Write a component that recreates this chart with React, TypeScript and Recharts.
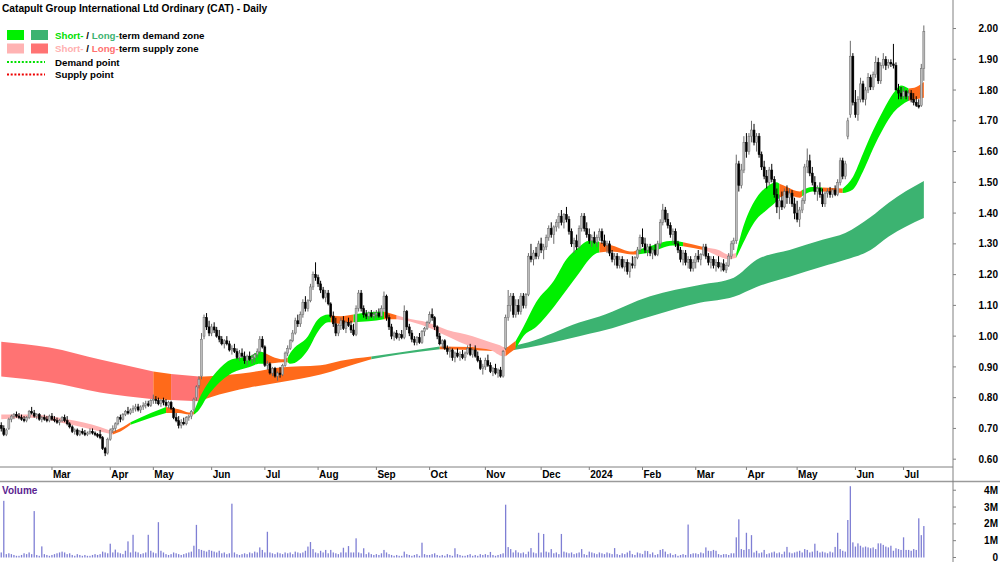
import React from 'react';
import { ComposedChart, Area, Bar, XAxis, YAxis } from 'recharts';

type OHLC = [number, number, number, number];

// Daily candles [open, high, low, close], one array per month
const feb23: OHLC[] = [[0.71,0.72,0.69,0.70],[0.70,0.71,0.675,0.68],[0.68,0.70,0.675,0.695],[0.70,0.735,0.695,0.73],[0.73,0.745,0.72,0.74],[0.74,0.75,0.73,0.745],[0.745,0.755,0.735,0.74],[0.74,0.75,0.73,0.735],[0.735,0.745,0.725,0.73],[0.73,0.74,0.72,0.725],[0.725,0.74,0.72,0.735],[0.735,0.76,0.73,0.755],[0.755,0.77,0.745,0.75],[0.75,0.76,0.735,0.74],[0.74,0.75,0.73,0.745],[0.745,0.75,0.725,0.73],[0.73,0.74,0.72,0.735],[0.735,0.745,0.725,0.73],[0.73,0.74,0.72,0.725],[0.725,0.745,0.72,0.74]];
const mar23: OHLC[] = [[0.74,0.75,0.725,0.73],[0.73,0.74,0.72,0.725],[0.725,0.735,0.715,0.72],[0.72,0.73,0.71,0.725],[0.725,0.74,0.72,0.735],[0.735,0.745,0.72,0.725],[0.725,0.74,0.71,0.715],[0.715,0.72,0.70,0.705],[0.705,0.71,0.685,0.69],[0.69,0.70,0.68,0.695],[0.695,0.70,0.675,0.68],[0.68,0.695,0.675,0.69],[0.69,0.70,0.68,0.685],[0.685,0.695,0.675,0.68],[0.68,0.69,0.675,0.685],[0.685,0.70,0.68,0.69],[0.69,0.70,0.68,0.685],[0.685,0.69,0.675,0.68],[0.68,0.685,0.67,0.675],[0.68,0.695,0.665,0.67],[0.67,0.675,0.63,0.635],[0.635,0.64,0.61,0.62],[0.62,0.67,0.615,0.665]];
const apr23: OHLC[] = [[0.665,0.70,0.66,0.695],[0.695,0.71,0.685,0.70],[0.70,0.72,0.69,0.715],[0.715,0.74,0.71,0.735],[0.735,0.745,0.72,0.73],[0.73,0.75,0.725,0.745],[0.745,0.76,0.74,0.755],[0.755,0.77,0.745,0.75],[0.75,0.765,0.745,0.76],[0.76,0.775,0.75,0.765],[0.765,0.78,0.755,0.77],[0.77,0.78,0.755,0.76],[0.76,0.775,0.75,0.77],[0.77,0.785,0.76,0.775],[0.775,0.79,0.765,0.78],[0.78,0.79,0.77,0.775],[0.775,0.795,0.77,0.79]];
const may23: OHLC[] = [[0.79,0.81,0.78,0.795],[0.795,0.805,0.78,0.79],[0.79,0.80,0.775,0.78],[0.78,0.795,0.77,0.79],[0.79,0.80,0.775,0.785],[0.785,0.795,0.77,0.775],[0.775,0.79,0.765,0.785],[0.785,0.79,0.76,0.765],[0.765,0.77,0.73,0.735],[0.735,0.75,0.72,0.725],[0.725,0.74,0.70,0.71],[0.71,0.73,0.70,0.72],[0.72,0.735,0.71,0.715],[0.715,0.74,0.71,0.735],[0.735,0.745,0.725,0.74],[0.74,0.76,0.73,0.755],[0.76,0.80,0.755,0.795],[0.80,0.84,0.79,0.835],[0.84,0.87,0.83,0.86],[0.87,1.01,0.86,0.99],[1.00,1.07,0.99,1.06],[1.06,1.075,1.02,1.03],[1.03,1.05,1.00,1.01]];
const jun23: OHLC[] = [[1.01,1.04,1.00,1.03],[1.03,1.045,1.01,1.02],[1.02,1.03,0.995,1.00],[1.00,1.02,0.98,0.99],[0.99,1.00,0.97,0.975],[0.975,0.99,0.96,0.985],[0.985,1.00,0.97,0.975],[0.975,0.985,0.95,0.955],[0.955,0.97,0.94,0.96],[0.96,0.975,0.945,0.95],[0.95,0.96,0.925,0.93],[0.93,0.955,0.92,0.945],[0.945,0.96,0.93,0.935],[0.935,0.95,0.91,0.92],[0.92,0.94,0.905,0.935],[0.935,0.95,0.92,0.925],[0.925,0.94,0.91,0.93],[0.93,0.945,0.915,0.94],[0.94,0.96,0.93,0.95],[0.95,1.00,0.945,0.99],[0.99,1.00,0.96,0.965]];
const jul23: OHLC[] = [[0.965,0.97,0.90,0.905],[0.905,0.92,0.89,0.91],[0.91,0.915,0.875,0.88],[0.88,0.90,0.87,0.895],[0.895,0.90,0.865,0.87],[0.87,0.885,0.855,0.88],[0.88,0.90,0.865,0.875],[0.875,0.91,0.87,0.905],[0.905,0.95,0.90,0.945],[0.945,0.97,0.935,0.96],[0.96,0.99,0.955,0.985],[0.985,1.02,0.98,1.01],[1.01,1.06,1.005,1.05],[1.05,1.07,1.03,1.04],[1.04,1.08,1.03,1.07],[1.07,1.12,1.06,1.11],[1.11,1.13,1.08,1.09],[1.09,1.12,1.08,1.115],[1.115,1.17,1.11,1.16],[1.16,1.21,1.15,1.20],[1.20,1.24,1.18,1.19]];
const aug23: OHLC[] = [[1.19,1.20,1.16,1.17],[1.17,1.18,1.14,1.15],[1.15,1.16,1.12,1.125],[1.125,1.15,1.11,1.14],[1.14,1.15,1.10,1.105],[1.105,1.11,1.06,1.065],[1.065,1.08,1.03,1.04],[1.04,1.06,1.00,1.01],[1.01,1.04,1.00,1.035],[1.035,1.06,1.02,1.05],[1.05,1.065,1.02,1.025],[1.025,1.05,1.01,1.045],[1.045,1.06,1.03,1.035],[1.035,1.05,1.01,1.02],[1.02,1.04,1.00,1.005],[1.005,1.10,1.00,1.09],[1.09,1.15,1.08,1.14],[1.14,1.15,1.08,1.09],[1.09,1.10,1.06,1.07],[1.07,1.085,1.055,1.065],[1.065,1.08,1.055,1.075],[1.075,1.085,1.06,1.065],[1.065,1.08,1.055,1.07]];
const sep23: OHLC[] = [[1.07,1.085,1.06,1.075],[1.075,1.09,1.06,1.065],[1.065,1.10,1.06,1.09],[1.09,1.145,1.08,1.13],[1.13,1.135,1.05,1.06],[1.06,1.07,1.02,1.03],[1.03,1.04,0.99,1.00],[1.00,1.015,0.985,1.01],[1.01,1.02,0.99,0.995],[0.995,1.01,0.985,1.005],[1.005,1.02,0.99,0.995],[0.995,1.10,0.99,1.08],[1.08,1.085,1.02,1.03],[1.03,1.04,1.00,1.01],[1.01,1.02,0.98,0.99],[0.99,1.00,0.97,0.98],[0.98,1.00,0.97,0.995],[0.995,1.01,0.975,0.98],[0.98,1.02,0.975,1.015],[1.015,1.03,1.00,1.025],[1.025,1.05,1.02,1.045]];
const oct23: OHLC[] = [[1.045,1.08,1.04,1.07],[1.07,1.09,1.05,1.06],[1.06,1.065,1.02,1.03],[1.03,1.035,0.99,1.00],[1.00,1.01,0.97,0.975],[0.975,0.99,0.96,0.985],[0.985,0.99,0.955,0.96],[0.96,0.97,0.94,0.95],[0.95,0.965,0.93,0.955],[0.955,0.96,0.92,0.93],[0.93,0.95,0.915,0.945],[0.945,0.96,0.93,0.935],[0.935,0.95,0.92,0.94],[0.94,0.955,0.925,0.93],[0.93,0.95,0.92,0.945],[0.945,0.97,0.94,0.96],[0.96,0.975,0.935,0.94],[0.94,0.96,0.93,0.955],[0.955,0.97,0.93,0.935],[0.935,0.95,0.915,0.92],[0.92,0.93,0.89,0.895],[0.895,0.91,0.875,0.90]];
const nov23: OHLC[] = [[0.90,0.93,0.89,0.92],[0.92,0.94,0.90,0.905],[0.905,0.915,0.88,0.885],[0.885,0.90,0.87,0.895],[0.895,0.91,0.875,0.88],[0.88,0.895,0.865,0.89],[0.89,0.90,0.865,0.87],[0.87,0.955,0.865,0.95],[0.96,1.07,0.955,1.06],[1.06,1.15,1.05,1.10],[1.10,1.14,1.08,1.13],[1.13,1.14,1.06,1.07],[1.07,1.12,1.06,1.10],[1.10,1.12,1.07,1.08],[1.08,1.14,1.07,1.13],[1.13,1.14,1.09,1.10],[1.10,1.14,1.09,1.135],[1.135,1.27,1.13,1.26],[1.26,1.30,1.24,1.25],[1.25,1.28,1.23,1.27],[1.27,1.29,1.25,1.26],[1.26,1.31,1.25,1.30]];
const dec23: OHLC[] = [[1.30,1.32,1.27,1.28],[1.28,1.30,1.25,1.29],[1.29,1.33,1.28,1.32],[1.32,1.36,1.31,1.35],[1.35,1.37,1.32,1.33],[1.33,1.36,1.30,1.355],[1.355,1.38,1.34,1.37],[1.37,1.40,1.35,1.39],[1.39,1.41,1.36,1.37],[1.37,1.40,1.35,1.395],[1.395,1.42,1.37,1.38],[1.38,1.39,1.33,1.34],[1.34,1.35,1.29,1.30],[1.30,1.32,1.27,1.31],[1.31,1.33,1.28,1.29],[1.29,1.36,1.285,1.35],[1.35,1.40,1.34,1.39],[1.39,1.40,1.34,1.35],[1.35,1.37,1.32,1.33]];
const jan24: OHLC[] = [[1.33,1.35,1.30,1.31],[1.31,1.33,1.29,1.32],[1.32,1.34,1.30,1.305],[1.305,1.33,1.29,1.32],[1.32,1.35,1.31,1.34],[1.34,1.35,1.30,1.31],[1.31,1.33,1.29,1.295],[1.295,1.31,1.27,1.30],[1.30,1.31,1.26,1.27],[1.27,1.28,1.24,1.25],[1.25,1.27,1.23,1.26],[1.26,1.27,1.22,1.23],[1.23,1.26,1.22,1.25],[1.25,1.26,1.22,1.225],[1.225,1.25,1.21,1.24],[1.24,1.25,1.20,1.21],[1.21,1.24,1.19,1.235],[1.235,1.26,1.22,1.23],[1.23,1.26,1.22,1.255],[1.255,1.29,1.25,1.28],[1.28,1.33,1.27,1.32]];
const feb24: OHLC[] = [[1.32,1.35,1.29,1.30],[1.30,1.32,1.27,1.28],[1.28,1.30,1.26,1.29],[1.29,1.30,1.26,1.27],[1.27,1.29,1.25,1.28],[1.28,1.30,1.26,1.265],[1.265,1.31,1.26,1.30],[1.30,1.38,1.29,1.37],[1.37,1.43,1.36,1.41],[1.41,1.42,1.37,1.38],[1.38,1.40,1.35,1.36],[1.36,1.37,1.32,1.33],[1.33,1.35,1.30,1.34],[1.34,1.35,1.29,1.30],[1.30,1.31,1.27,1.28],[1.28,1.29,1.24,1.25],[1.25,1.28,1.23,1.27],[1.27,1.28,1.23,1.24],[1.24,1.26,1.22,1.25],[1.25,1.26,1.21,1.22],[1.22,1.25,1.21,1.24]];
const mar24: OHLC[] = [[1.24,1.27,1.22,1.26],[1.26,1.28,1.24,1.25],[1.25,1.27,1.23,1.265],[1.265,1.30,1.26,1.29],[1.29,1.30,1.25,1.26],[1.26,1.27,1.23,1.24],[1.24,1.26,1.22,1.25],[1.25,1.26,1.22,1.23],[1.23,1.25,1.21,1.24],[1.24,1.26,1.22,1.225],[1.225,1.24,1.21,1.235],[1.235,1.25,1.21,1.215],[1.215,1.24,1.205,1.23],[1.23,1.27,1.225,1.26],[1.26,1.31,1.25,1.30],[1.30,1.32,1.28,1.31],[1.31,1.59,1.30,1.56],[1.56,1.57,1.47,1.49],[1.49,1.56,1.48,1.54],[1.54,1.65,1.53,1.63]];
const apr24: OHLC[] = [[1.63,1.66,1.58,1.60],[1.60,1.66,1.59,1.65],[1.65,1.70,1.63,1.67],[1.67,1.69,1.62,1.63],[1.63,1.66,1.60,1.65],[1.65,1.66,1.58,1.59],[1.59,1.60,1.54,1.55],[1.55,1.57,1.51,1.52],[1.52,1.54,1.48,1.50],[1.50,1.55,1.49,1.54],[1.54,1.56,1.50,1.51],[1.51,1.52,1.45,1.46],[1.46,1.48,1.40,1.42],[1.42,1.46,1.38,1.44],[1.44,1.47,1.41,1.42],[1.42,1.48,1.415,1.47],[1.47,1.49,1.43,1.45],[1.45,1.48,1.43,1.465],[1.465,1.475,1.42,1.43],[1.43,1.45,1.38,1.40]];
const may24: OHLC[] = [[1.40,1.44,1.37,1.38],[1.38,1.42,1.355,1.41],[1.41,1.45,1.40,1.44],[1.44,1.56,1.43,1.55],[1.55,1.61,1.53,1.57],[1.57,1.59,1.52,1.53],[1.53,1.55,1.49,1.50],[1.50,1.52,1.46,1.47],[1.47,1.49,1.44,1.48],[1.48,1.50,1.45,1.46],[1.46,1.48,1.42,1.43],[1.43,1.47,1.42,1.465],[1.465,1.48,1.45,1.47],[1.47,1.485,1.45,1.46],[1.46,1.48,1.45,1.475],[1.475,1.49,1.455,1.46],[1.46,1.51,1.455,1.50],[1.50,1.58,1.49,1.57],[1.57,1.58,1.51,1.52],[1.52,1.57,1.51,1.56],[1.65,1.71,1.64,1.70],[1.72,1.96,1.71,1.91],[1.91,1.92,1.75,1.76]];
const jun24: OHLC[] = [[1.76,1.80,1.71,1.72],[1.72,1.78,1.70,1.77],[1.77,1.84,1.76,1.82],[1.82,1.83,1.76,1.77],[1.77,1.81,1.75,1.80],[1.80,1.855,1.79,1.84],[1.84,1.85,1.80,1.81],[1.81,1.86,1.80,1.85],[1.85,1.91,1.84,1.89],[1.89,1.905,1.82,1.83],[1.83,1.89,1.82,1.88],[1.88,1.92,1.87,1.90],[1.90,1.91,1.865,1.88],[1.88,1.90,1.87,1.89],[1.89,1.90,1.875,1.885],[1.885,1.95,1.87,1.88],[1.88,1.89,1.80,1.80],[1.80,1.82,1.77,1.79],[1.79,1.81,1.77,1.78]];
const jul24: OHLC[] = [[1.78,1.81,1.77,1.795],[1.795,1.80,1.77,1.78],[1.78,1.80,1.765,1.79],[1.79,1.80,1.76,1.77],[1.77,1.79,1.75,1.76],[1.76,1.78,1.745,1.75],[1.75,1.77,1.74,1.745],[1.75,1.885,1.745,1.87],[1.87,2.01,1.83,1.99]];

// Daily volume in millions of shares, one array per month
const volFeb23 = [0.3,3.37,0.2,0.25,0.2,0.15,0.1,0.1,0.15,0.25,0.2,0.3,0.2,2.76,0.15,0.1,0.66,0.2,0.15,0.1];
const volMar23 = [0.15,0.2,0.25,0.3,0.35,0.3,0.2,0.25,0.15,0.1,0.2,0.15,0.1,0.15,0.1,0.1,0.15,0.2,0.15,0.2,0.35,0.3,0.25];
const volApr23 = [0.82,0.3,0.47,0.3,0.25,0.2,0.4,0.96,0.3,1.35,0.35,0.3,0.2,0.25,0.3,1.35,0.4];
const volMay23 = [0.3,0.25,2.1,0.4,0.3,0.2,0.15,0.2,0.3,0.25,0.2,0.15,0.2,0.25,0.3,0.35,0.7,1.94,0.5,0.45,0.4,0.35,0.45];
const volJun23 = [0.4,0.35,0.3,0.4,0.25,0.3,0.2,0.25,3.2,0.3,0.2,0.15,0.2,0.25,0.2,0.3,0.25,0.35,0.3,0.6,0.45];
const volJul23 = [0.3,1.53,0.3,0.25,0.2,0.3,0.25,0.2,0.3,0.25,0.3,0.2,0.35,0.3,0.25,0.3,0.4,0.65,0.92,0.5,0.3];
const volAug23 = [0.25,0.4,0.3,0.45,0.25,0.45,0.3,0.25,0.2,0.3,0.58,0.3,0.68,0.3,0.3,1.14,0.3,0.25,0.55,0.2,0.3,0.2,0.15];
const volSep23 = [0.2,0.15,0.25,0.45,0.3,0.2,0.15,0.1,0.15,0.1,0.1,0.35,0.2,0.15,0.1,0.15,0.2,0.1,0.88,0.2,0.15];
const volOct23 = [0.15,0.2,0.25,0.15,0.1,0.15,0.1,0.2,0.15,0.1,0.55,0.2,0.15,0.1,0.1,0.15,0.2,0.1,0.15,0.1,0.2,0.15];
const volNov23 = [0.2,0.15,0.33,0.15,0.1,0.15,0.2,0.25,3.14,0.62,0.5,0.3,0.43,0.3,0.25,0.3,0.2,0.35,0.56,0.3,0.25,1.47];
const volDec23 = [0.3,1.4,0.35,0.3,0.5,0.25,0.3,0.2,1.4,0.35,0.3,0.25,0.3,0.2,0.25,0.3,0.5,0.2,0.15];
const volJan24 = [0.35,0.3,0.25,0.2,0.3,0.25,0.2,0.3,0.25,0.2,0.56,0.2,0.15,0.25,0.2,0.3,0.4,0.2,0.15,0.3,0.25];
const volFeb24 = [0.2,0.4,0.38,0.2,0.3,0.15,0.2,0.45,0.5,0.35,0.2,0.25,0.15,0.2,0.1,0.15,0.2,0.15,1.96,0.2,0.25];
const volMar24 = [0.25,0.2,0.3,0.25,0.6,0.4,0.38,0.45,0.4,0.2,0.15,0.2,0.2,0.15,0.25,0.25,1.2,2.27,0.5,0.45];
const volApr24 = [1.47,0.5,1.33,0.3,0.4,0.25,0.3,0.45,0.2,0.25,0.3,0.35,0.25,0.3,0.2,0.35,0.63,0.3,0.25,0.3];
const volMay24 = [0.35,0.4,0.3,0.5,0.45,0.3,0.35,0.82,0.4,0.3,0.35,0.3,0.25,0.35,0.3,0.63,1.47,0.5,0.4,0.35,2.23,4.24,0.9];
const volJun24 = [0.65,0.84,0.7,0.6,0.65,0.6,0.55,0.6,0.5,0.84,0.84,0.75,0.65,0.6,0.7,0.4,0.55,0.5,0.45];
const volJul24 = [1.2,0.45,0.45,0.4,0.5,0.45,2.33,1.33,1.87];

// X axis: trading-day index of the first session of each month
const monthTickIdx = [20,43,60,83,104,125,148,169,191,213,232,253,274,294,314,337,356];
const monthTickLabels = ['Mar','Apr','May','Jun','Jul','Aug','Sep','Oct','Nov','Dec','2024','Feb','Mar','Apr','May','Jun','Jul'];
const priceTicks = [0.6,0.7,0.8,0.9,1.0,1.1,1.2,1.3,1.4,1.5,1.6,1.7,1.8,1.9,2.0];
const volTicks = [0,1,2,3,4];
const volTickLabels = ['0','1M','2M','3M','4M'];

// Zones: [dayIndex, lower, upper]
type Kind = 'demand' | 'supply' | 'shift';
type Zone = { kind: Kind; pts: [number, number, number][] };

const longTermZones: Zone[] = [
  { kind: 'supply', pts: [[0,0.869,0.982],[19,0.85,0.963],[39,0.817,0.924],[60,0.795,0.885]] },
  { kind: 'shift', pts: [[60,0.795,0.885],[67,0.792,0.877]] },
  { kind: 'supply', pts: [[67,0.792,0.877],[78,0.788,0.869]] },
  { kind: 'shift', pts: [[78,0.788,0.869],[82,0.80,0.87],[98,0.833,0.882],[110,0.85,0.898],[126,0.875,0.905],[134,0.895,0.92],[146,0.925,0.934]] },
  { kind: 'demand', pts: [[146,0.925,0.934],[157,0.94,0.947],[173,0.957,0.966]] },
  { kind: 'shift', pts: [[173,0.957,0.966],[185,0.955,0.965],[199,0.95,0.963]] },
  { kind: 'demand', pts: [[199,0.95,0.963],[208,0.963,0.98],[228,1.00,1.044],[236,1.015,1.064],[256,1.064,1.13],[276,1.109,1.167],[289,1.128,1.19],[298,1.16,1.248],[311,1.193,1.28],[324,1.226,1.313],[333,1.248,1.335],[343,1.28,1.387],[350,1.323,1.433],[364,1.384,1.504]] },
];

const shortTermZones: Zone[] = [
  { kind: 'supply', pts: [[0,0.73,0.745],[12,0.735,0.745],[26,0.715,0.73],[39,0.69,0.705],[44,0.68,0.69]] },
  { kind: 'shift', pts: [[44,0.68,0.69],[48,0.695,0.705],[51,0.712,0.72]] },
  { kind: 'demand', pts: [[51,0.712,0.72],[59,0.735,0.75],[65,0.75,0.77]] },
  { kind: 'shift', pts: [[65,0.75,0.77],[70,0.75,0.762],[74,0.745,0.752],[76,0.745,0.755]] },
  { kind: 'demand', pts: [[76,0.745,0.755],[78,0.76,0.795],[81,0.80,0.84],[85,0.84,0.885],[91,0.88,0.925],[98,0.90,0.935],[102,0.91,0.95],[104,0.91,0.945]] },
  { kind: 'shift', pts: [[104,0.91,0.945],[108,0.913,0.93],[111,0.915,0.925],[113,0.915,0.93]] },
  { kind: 'demand', pts: [[113,0.915,0.93],[114,0.91,0.945],[121,0.955,1.00],[125,1.015,1.055],[129,1.045,1.07],[130,1.045,1.068]] },
  { kind: 'shift', pts: [[130,1.045,1.068],[134,1.04,1.065],[139,1.045,1.07]] },
  { kind: 'demand', pts: [[139,1.045,1.07],[145,1.048,1.078],[151,1.055,1.08]] },
  { kind: 'shift', pts: [[151,1.055,1.08],[156,1.055,1.068]] },
  { kind: 'supply', pts: [[156,1.055,1.068],[160,1.05,1.058],[168,1.03,1.045],[176,1.00,1.02],[186,0.965,1.00],[193,0.955,0.98],[198,0.935,0.965],[199,0.935,0.96]] },
  { kind: 'shift', pts: [[199,0.935,0.96],[203,0.96,0.985]] },
  { kind: 'demand', pts: [[203,0.96,0.985],[206,1.00,1.03],[211,1.03,1.11],[218,1.095,1.18],[223,1.15,1.25],[228,1.205,1.29],[232,1.25,1.31],[235,1.27,1.31],[236,1.272,1.305]] },
  { kind: 'shift', pts: [[236,1.272,1.305],[241,1.275,1.295],[249,1.265,1.275],[251,1.265,1.28]] },
  { kind: 'demand', pts: [[251,1.265,1.28],[255,1.27,1.29],[265,1.295,1.31],[269,1.292,1.305]] },
  { kind: 'shift', pts: [[269,1.292,1.305],[277,1.28,1.29],[278,1.278,1.288]] },
  { kind: 'supply', pts: [[278,1.278,1.288],[283,1.26,1.28],[287,1.25,1.265],[290,1.255,1.27]] },
  { kind: 'demand', pts: [[290,1.255,1.27],[292,1.29,1.335],[298,1.38,1.45],[302,1.41,1.485],[306,1.44,1.50],[307,1.45,1.495]] },
  { kind: 'shift', pts: [[307,1.45,1.495],[310,1.46,1.485],[315,1.45,1.47],[316,1.455,1.475]] },
  { kind: 'demand', pts: [[316,1.455,1.475],[320,1.47,1.485],[324,1.47,1.483]] },
  { kind: 'shift', pts: [[324,1.47,1.483],[332,1.465,1.48]] },
  { kind: 'demand', pts: [[332,1.465,1.48],[336,1.477,1.517],[340,1.535,1.594],[344,1.61,1.669],[348,1.675,1.734],[352,1.727,1.79],[355,1.75,1.815],[358,1.765,1.805]] },
  { kind: 'shift', pts: [[358,1.765,1.805],[361,1.77,1.81],[364,1.775,1.826]] },
];

// ---------- styling ----------
const FONT = '"Liberation Sans", Arial, Helvetica, sans-serif';
const SLOTS = 376;
const LT_COLORS: Record<Kind, string> = { demand: '#3cb371', supply: '#ff7373', shift: '#ff6a1a' };
const ST_COLORS: Record<Kind, string> = { demand: '#00f000', supply: '#ffb3b3', shift: '#ff6a1a' };
const AXIS_GRAY = '#808080';

const candles: OHLC[] = [...feb23, ...mar23, ...apr23, ...may23, ...jun23, ...jul23, ...aug23, ...sep23, ...oct23, ...nov23, ...dec23, ...jan24, ...feb24, ...mar24, ...apr24, ...may24, ...jun24, ...jul24];
const volumes: number[] = [...volFeb23, ...volMar23, ...volApr23, ...volMay23, ...volJun23, ...volJul23, ...volAug23, ...volSep23, ...volOct23, ...volNov23, ...volDec23, ...volJan24, ...volFeb24, ...volMar24, ...volApr24, ...volMay24, ...volJun24, ...volJul24];

const zones = [
  ...longTermZones.map((z) => ({ ...z, color: LT_COLORS[z.kind] })),
  ...shortTermZones.map((z) => ({ ...z, color: ST_COLORS[z.kind] })),
];

const rows: any[] = Array.from({ length: SLOTS }, (_, i) => {
  const row: any = { i };
  const cd = candles[i];
  if (cd) {
    row.o = cd[0]; row.h = cd[1]; row.l = cd[2]; row.c = cd[3];
    row.range = [cd[2], cd[1]];
    row.vol = volumes[i];
  }
  zones.forEach((_, k) => { row['z' + k] = [null, null]; });
  return row;
});
zones.forEach((z, k) => { z.pts.forEach(([i, lo, hi]) => { rows[i]['z' + k] = [lo, hi]; }); });

function Candle(props: any) {
  const { x, y, width, height, payload } = props;
  if (!payload || payload.o == null || !isFinite(y) || !isFinite(height)) return null;
  const { o, h, l, c } = payload;
  const yHi = Math.min(y, y + height);
  const yLo = Math.max(y, y + height);
  const k = (yLo - yHi) / (h - l);
  const cx = x + width / 2;
  const yO = yHi + (h - o) * k;
  const yC = yHi + (h - c) * k;
  const up = c >= o;
  const top = Math.min(yO, yC);
  const bh = Math.max(Math.abs(yO - yC), 1);
  const edge = up ? '#6a6a6a' : '#000';
  return (
    <g>
      <line x1={cx} x2={cx} y1={yHi} y2={yLo} stroke={edge} strokeWidth={1} />
      <rect x={cx - 1} y={top} width={2} height={bh} fill={up ? '#bcbcbc' : '#000'} stroke={edge} strokeWidth={0.5} />
    </g>
  );
}

function VolBar(props: any) {
  const { x, y, width, height, payload } = props;
  if (!payload || payload.vol == null || !isFinite(y) || !isFinite(height)) return null;
  const cx = x + width / 2;
  const top = Math.min(y, y + height);
  return <rect x={cx - 0.65} y={top} width={1.3} height={Math.abs(height)} fill="#7f7fd4" />;
}

function MonthTick(props: any) {
  const { x, y, payload } = props;
  const idx = monthTickIdx.indexOf(payload.value);
  return (
    <g>
      <line x1={x} x2={x} y1={y} y2={y + 3} stroke={AXIS_GRAY} />
      <text x={x + 1} y={y + 11} fontSize={10} fontWeight="bold" fontFamily={FONT} fill="#000">{monthTickLabels[idx]}</text>
    </g>
  );
}

function PriceTick(props: any) {
  const { x, y, payload } = props;
  return (
    <g>
      <line x1={x} x2={x + 3} y1={y} y2={y} stroke={AXIS_GRAY} />
      <text x={x + 45} y={y + 3.6} textAnchor="end" fontSize={10} fontWeight="bold" fontFamily={FONT} fill="#000">{Number(payload.value).toFixed(2)}</text>
    </g>
  );
}

function VolTick(props: any) {
  const { x, y, payload } = props;
  const idx = volTicks.indexOf(payload.value);
  return (
    <g>
      <line x1={x} x2={x + 3} y1={y} y2={y} stroke={AXIS_GRAY} />
      <text x={x + 45} y={y + 3.6} textAnchor="end" fontSize={10} fontWeight="bold" fontFamily={FONT} fill="#000">{volTickLabels[idx]}</text>
    </g>
  );
}

function LegendText(p: { x: number; y: number; fill: string; children: React.ReactNode }) {
  return (
    <text x={p.x} y={p.y} fontSize={9.7} fontWeight="bold" fontFamily={FONT} fill={p.fill}>{p.children}</text>
  );
}

export default function App() {
  return (
    <div style={{ position: 'absolute', left: 0, top: 0, width: 1000, height: 562, background: '#fff', overflow: 'hidden' }}>
      <div style={{ position: 'absolute', left: 0, top: 0 }}>
        <ComposedChart width={1000} height={482} data={rows} margin={{ top: 0, right: 0, left: 0, bottom: 0 }}>
          <XAxis dataKey="i" type="number" domain={[-0.5, SLOTS - 0.5]} allowDataOverflow ticks={monthTickIdx} interval={0}
            tick={<MonthTick />} tickLine={false} axisLine={false} tickSize={0} tickMargin={0} height={15} />
          <YAxis orientation="right" width={47} type="number" domain={[0.5746, 2.0927]} allowDataOverflow ticks={priceTicks} interval={0}
            tick={<PriceTick />} tickLine={false} axisLine={false} tickSize={0} tickMargin={0} />
          {zones.map((z, k) => (
            <Area key={'z' + k} dataKey={'z' + k} type="monotone" stroke="none" fill={z.color} fillOpacity={1}
              connectNulls dot={false} activeDot={false} isAnimationActive={false} />
          ))}
          <Bar dataKey="range" shape={<Candle />} isAnimationActive={false} />
        </ComposedChart>
      </div>
      <div style={{ position: 'absolute', left: 0, top: 482 }}>
        <ComposedChart width={1000} height={80} data={rows} margin={{ top: 1, right: 0, left: 0, bottom: 0 }}>
          <XAxis dataKey="i" type="number" domain={[-0.5, SLOTS - 0.5]} allowDataOverflow hide />
          <YAxis orientation="right" width={47} type="number" domain={[-0.268, 4.43]} allowDataOverflow ticks={volTicks} interval={0}
            tick={<VolTick />} tickLine={false} axisLine={false} tickSize={0} tickMargin={0} />
          <Bar dataKey="vol" shape={<VolBar />} isAnimationActive={false} />
        </ComposedChart>
      </div>
      <svg width={1000} height={562} style={{ position: 'absolute', left: 0, top: 0, pointerEvents: 'none' }}>
        <line x1={0} x2={953} y1={467} y2={467} stroke={AXIS_GRAY} strokeWidth={1} />
        <line x1={0} x2={1000} y1={481.5} y2={481.5} stroke="#9a9a9a" strokeWidth={1.6} />
        <line x1={953} x2={953} y1={0} y2={562} stroke={AXIS_GRAY} strokeWidth={1} />
        <text x={2} y={12.3} fontSize={10.2} fontWeight="bold" fontFamily={FONT} fill="#000">Catapult Group International Ltd Ordinary (CAT) - Daily</text>

        <rect x={7} y={30} width={17} height={10} fill={ST_COLORS.demand} />
        <rect x={31} y={30} width={17} height={10} fill={LT_COLORS.demand} />
        <LegendText x={55} y={38.5} fill="#00e000">Short-</LegendText>
        <LegendText x={86.3} y={38.5} fill="#000">/</LegendText>
        <LegendText x={91.8} y={38.5} fill={LT_COLORS.demand}>Long-</LegendText>
        <LegendText x={118.9} y={38.5} fill="#000">term demand zone</LegendText>

        <rect x={7} y={43.5} width={17} height={10} fill={ST_COLORS.supply} />
        <rect x={31} y={43.5} width={17} height={10} fill={LT_COLORS.supply} />
        <LegendText x={55} y={52} fill="#ffb0b0">Short-</LegendText>
        <LegendText x={86.3} y={52} fill="#000">/</LegendText>
        <LegendText x={91.8} y={52} fill="#ff6f6f">Long-</LegendText>
        <LegendText x={118.9} y={52} fill="#000">term supply zone</LegendText>

        <line x1={7} x2={45} y1={62} y2={62} stroke="#00e000" strokeWidth={2} strokeDasharray="2 1.7" />
        <LegendText x={55} y={65.5} fill="#000">Demand point</LegendText>
        <line x1={7} x2={45} y1={74.5} y2={74.5} stroke="#ee0000" strokeWidth={2} strokeDasharray="2 1.7" />
        <LegendText x={55} y={78} fill="#000">Supply point</LegendText>
        <text x={2} y={494} fontSize={10} fontWeight="bold" fontFamily={FONT} fill="#5a2390">Volume</text>
      </svg>
    </div>
  );
}
